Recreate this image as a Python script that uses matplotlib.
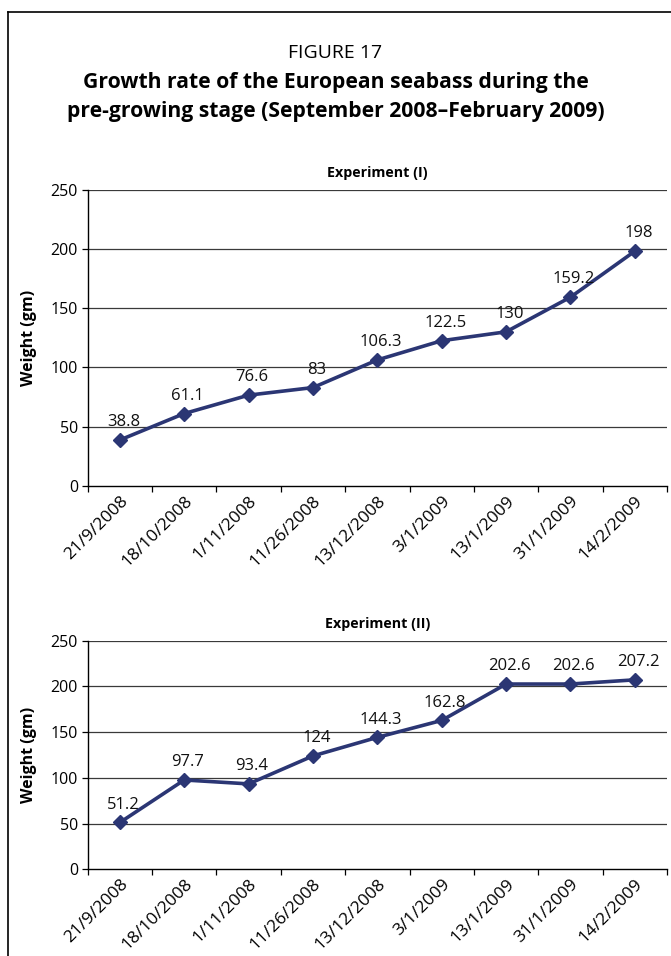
import matplotlib
matplotlib.use("Agg")
import matplotlib.pyplot as plt
from matplotlib.lines import Line2D
from matplotlib.transforms import ScaledTranslation
import numpy as np

plt.rcParams['font.family'] = ['Open Sans', 'DejaVu Sans']

dates = ["21/9/2008", "18/10/2008", "1/11/2008", "11/26/2008", "13/12/2008",
         "3/1/2009", "13/1/2009", "31/1/2009", "14/2/2009"]
exp1 = [38.8, 61.1, 76.6, 83, 106.3, 122.5, 130, 159.2, 198]
exp2 = [51.2, 97.7, 93.4, 124, 144.3, 162.8, 202.6, 202.6, 207.2]
exp1_labels = ["38.8", "61.1", "76.6", "83", "106.3", "122.5", "130", "159.2", "198"]
exp2_labels = ["51.2", "97.7", "93.4", "124", "144.3", "162.8", "202.6", "202.6", "207.2"]
yticks = [0, 50, 100, 150, 200, 250]

W, H = 671, 956
fig = plt.figure(figsize=(W / 100, H / 100), dpi=100)

LINE_C = '#2b3674'

def fx(px):
    return px / W

def fy(py):
    return 1 - py / H

def panel(top, bottom, values, labels, title):
    ax = fig.add_axes([fx(87.7), fy(bottom), fx(667) - fx(87.7), fy(top) - fy(bottom)])
    n = len(values)
    x = np.arange(n)
    ax.set_xlim(-0.5, n - 0.5)
    ax.set_ylim(0, 250)
    ax.set_yticks(yticks)
    ax.set_yticklabels([str(v) for v in yticks], fontsize=11.5)
    for v in yticks[1:]:
        ax.axhline(v, color='#3a3a3a', lw=0.9, zorder=1)
    ax.plot(x, values, color=LINE_C, lw=2.6, marker='D', ms=7.5,
            markerfacecolor=LINE_C, markeredgecolor=LINE_C, zorder=3)
    for xi, v, lab in zip(x, values, labels):
        ax.annotate(lab, (xi, v), xytext=(2.5, 7), textcoords='offset points',
                    ha='center', va='bottom', fontsize=12, color='#111111')
    ax.set_xticks(np.arange(-0.5, n, 1.0))
    ax.set_xticklabels([])
    ax.set_xticks(x, minor=True)
    ax.set_xticklabels(dates, minor=True, rotation=45, ha='right',
                       rotation_mode='anchor', fontsize=12.5)
    shift = ScaledTranslation(-4 / 100, 0, fig.dpi_scale_trans)
    for t in ax.get_xticklabels(minor=True):
        t.set_transform(t.get_transform() + shift)
    ax.tick_params(axis='x', which='major', length=4, width=0.9, direction='out')
    ax.tick_params(axis='x', which='minor', length=0, pad=5)
    ax.tick_params(axis='y', length=4, width=0.9, direction='out', pad=3)
    for s in ['top', 'right']:
        ax.spines[s].set_visible(False)
    for s in ['left', 'bottom']:
        ax.spines[s].set_linewidth(1.0)
        ax.spines[s].set_color('black')
    ax.set_ylabel('Weight (gm)', fontsize=11.5, fontweight='bold', labelpad=10)
    ax.set_title(title, fontsize=10.3, fontweight='bold', pad=9)
    return ax

panel(189.5, 486, exp1, exp1_labels, 'Experiment (I)')
panel(640.7, 869.3, exp2, exp2_labels, 'Experiment (II)')

fig.text(0.5, fy(58.3), 'FIGURE 17', ha='center', va='baseline', fontsize=14)
fig.text(0.5, fy(88.3), 'Growth rate of the European seabass during the',
         ha='center', va='baseline', fontsize=15.2, fontweight='bold')
fig.text(0.5, fy(116.7), 'pre-growing stage (September 2008\u2013February 2009)',
         ha='center', va='baseline', fontsize=15.2, fontweight='bold')

fig.add_artist(Line2D([fx(8), fx(8)], [0, fy(11.5)], color='black', lw=1.2))
fig.add_artist(Line2D([fx(8), 1], [fy(11.5), fy(11.5)], color='black', lw=1.2))

fig.savefig('out.png', dpi=100)
